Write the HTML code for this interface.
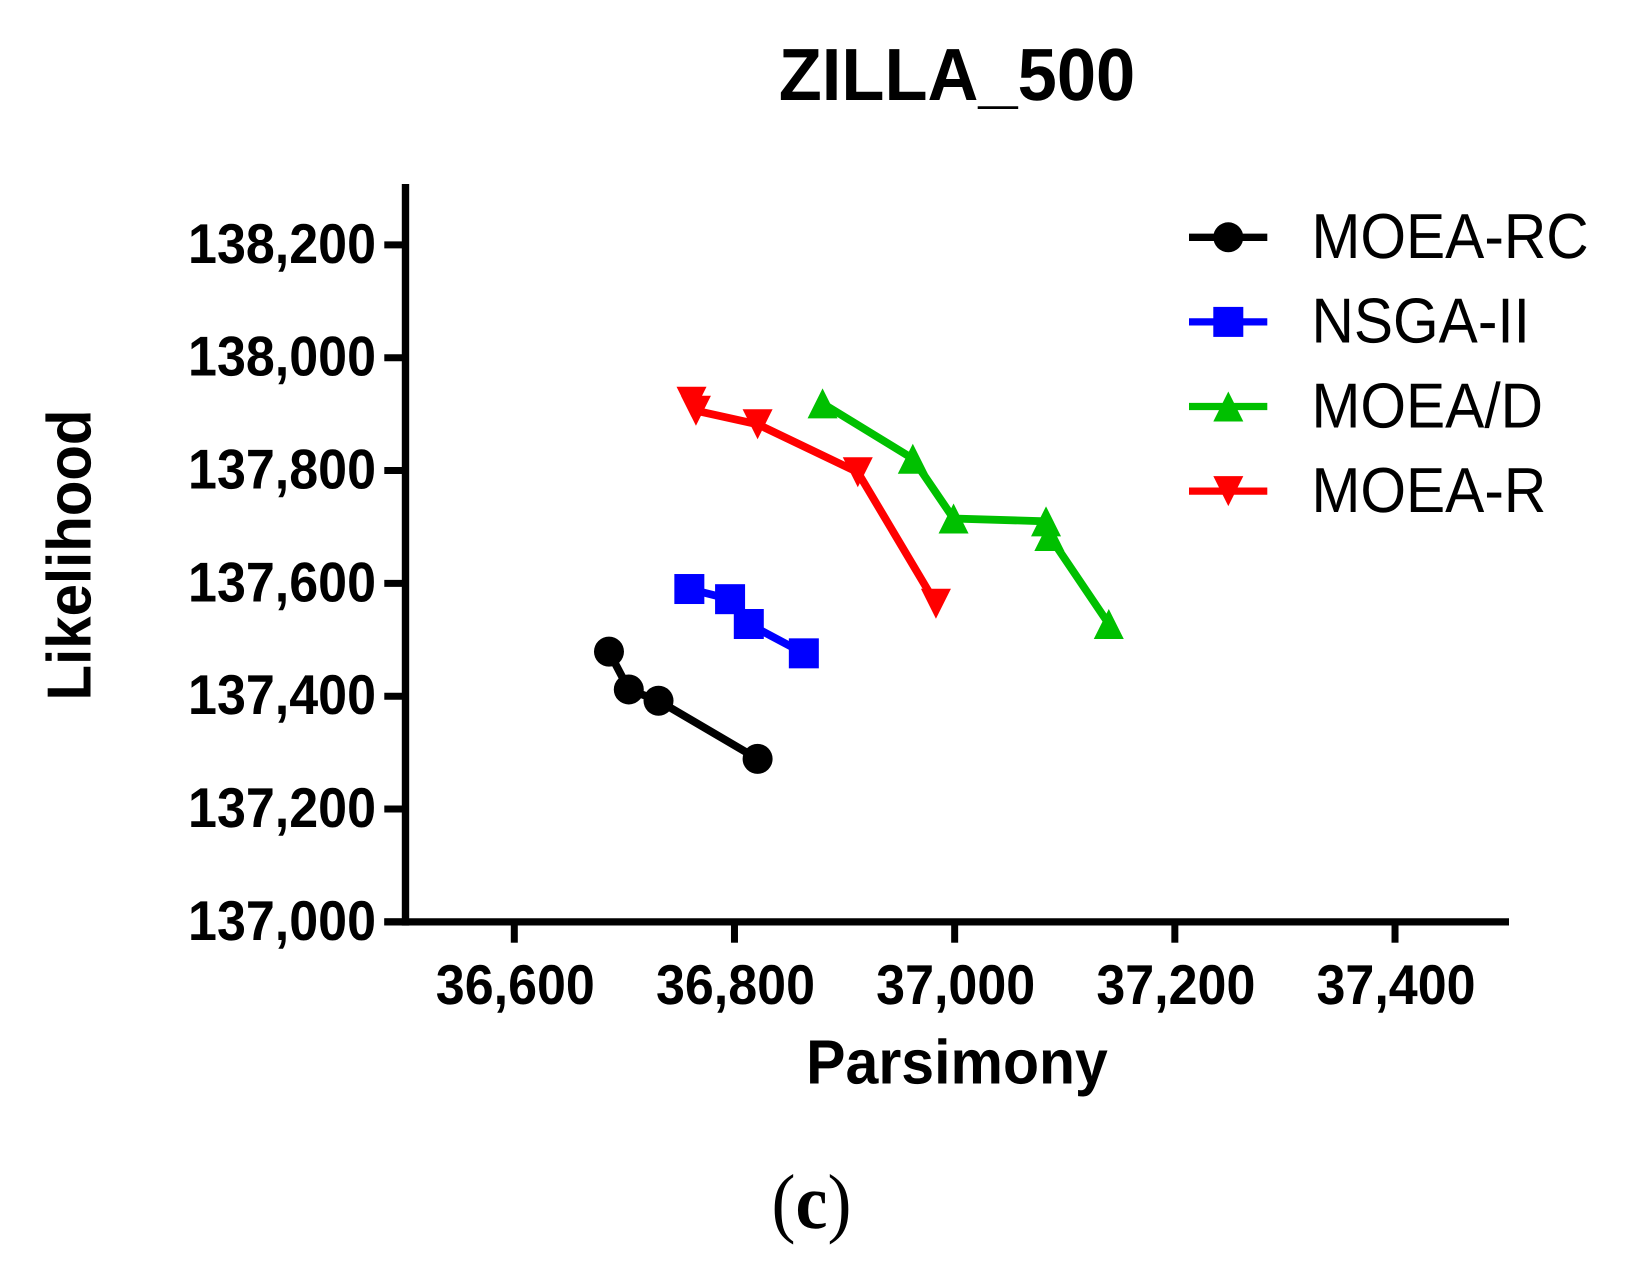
<!DOCTYPE html>
<html lang="en">
<head>
<meta charset="utf-8">
<title>ZILLA_500</title>
<style>
html,body{margin:0;padding:0;background:#fff;}
svg{display:block;}
text{fill:#000;font-family:"Liberation Sans",sans-serif;text-rendering:geometricPrecision;}
.b{font-weight:bold;}
</style>
</head>
<body>
<svg id="chart" width="1633" height="1269" viewBox="0 0 1633 1269" xmlns="http://www.w3.org/2000/svg">
  <rect x="0" y="0" width="1633" height="1269" fill="#fff"/>
  <text class="b" font-size="70.5" text-anchor="middle" transform="translate(957,100) scale(1,1.05)">ZILLA_500</text>
  <text class="b" font-size="59" text-anchor="middle" transform="translate(957,1083.5) scale(1,1.06)">Parsimony</text>
  <text class="b" font-size="58.2" text-anchor="middle" transform="translate(90.5,555) rotate(-90) scale(1,1.07)">Likelihood</text>
  <text font-size="72" text-anchor="middle" style="font-family:'Liberation Serif',serif" transform="translate(811.5,1228) scale(1,1.08)">(<tspan font-weight="bold">c</tspan>)</text>
  <g id="axes"></g>
  <g id="series"></g>
  <g id="legend"></g>
</svg>
<script>
// Data
const seriesNames = ["MOEA-RC", "NSGA-II", "MOEA/D", "MOEA-R"];
const moeaRcParsimony = [36686, 36704, 36731, 36821];
const moeaRcLikelihood = [137479, 137412, 137392, 137289];
const nsgaParsimony = [36759, 36796, 36813, 36863];
const nsgaLikelihood = [137590, 137572, 137528, 137476];
const moeaDParsimony = [36880, 36962, 36999, 37083, 37086, 37140];
const moeaDLikelihood = [137919, 137821, 137715, 137710, 137684, 137528];
const moeaRParsimony = [36761, 36765, 36821, 36912, 36983];
const moeaRLikelihood = [137922, 137906, 137882, 137797, 137564];
const xTicks = [36600, 36800, 37000, 37200, 37400];
const xTickLabels = ["36,600", "36,800", "37,000", "37,200", "37,400"];
const yTicks = [137000, 137200, 137400, 137600, 137800, 138000, 138200];
const yTickLabels = ["137,000", "137,200", "137,400", "137,600", "137,800", "138,000", "138,200"];

const NS = "http://www.w3.org/2000/svg";
const xAt = v => 514.3 + (v - 36600) * 1.1009;
const yAt = v => 921.9 - (v - 137000) * 0.5642;

function make(parent, tag, attrs) {
  const el = document.createElementNS(NS, tag);
  for (const k in attrs) el.setAttribute(k, attrs[k]);
  parent.appendChild(el);
  return el;
}
function marker(parent, shape, cx, cy, color) {
  const r = 15;
  if (shape === "circle") return make(parent, "circle", {cx: cx, cy: cy, r: r, fill: color});
  if (shape === "square") return make(parent, "rect", {x: cx - r, y: cy - r, width: 2 * r, height: 2 * r, fill: color});
  if (shape === "up") return make(parent, "polygon", {points: `${cx},${cy - r} ${cx + r},${cy + r} ${cx - r},${cy + r}`, fill: color});
  return make(parent, "polygon", {points: `${cx - r},${cy - r} ${cx + r},${cy - r} ${cx},${cy + r}`, fill: color});
}

// Axes
const axes = document.getElementById("axes");
const yAxisLine = make(axes, "line", {x1: 405.5, x2: 405.5, y1: 184, y2: 925.6, stroke: "#000", "stroke-width": 7.4});


const xAxisLine = make(axes, "line", {x1: 384.3, x2: 1509, y1: 921.9, y2: 921.9, stroke: "#000", "stroke-width": 7.2});



xTicks.forEach((v, i) => {
  const tick = make(axes, "line", {x1: xAt(v), x2: xAt(v), y1: 921.9, y2: 942.7, stroke: "#000", "stroke-width": 7});
  
  
  const label = make(axes, "text", {"class": "b", "font-size": 52, "text-anchor": "middle", transform: `translate(${xAt(v) + 1},1004) scale(1,1.08)`});
  label.textContent = xTickLabels[i];
  
  
});
yTicks.forEach((v, i) => {
  const tick = make(axes, "line", {x1: 384.3, x2: 405.5, y1: yAt(v), y2: yAt(v), stroke: "#000", "stroke-width": 7});
  
  
  const label = make(axes, "text", {"class": "b", "font-size": 52, "text-anchor": "end", transform: `translate(376,${yAt(v) + 18}) scale(1,1.08)`});
  label.textContent = yTickLabels[i];
  
  
});

// Series
const seriesLayer = document.getElementById("series");
const seriesParsimony = [moeaRcParsimony, nsgaParsimony, moeaDParsimony, moeaRParsimony];
const seriesLikelihood = [moeaRcLikelihood, nsgaLikelihood, moeaDLikelihood, moeaRLikelihood];
const seriesColors = ["#000000", "#0000ff", "#00c000", "#ff0000"];
const seriesShapes = ["circle", "square", "up", "down"];

seriesNames.forEach((name, s) => {
  const group = make(seriesLayer, "g", {});
  
  
  const pts = seriesParsimony[s].map((x, i) => `${xAt(x)},${yAt(seriesLikelihood[s][i])}`).join(" ");
  const line = make(group, "polyline", {points: pts, fill: "none", stroke: seriesColors[s], "stroke-width": 7.8, "stroke-linejoin": "miter"});
  
  
  seriesParsimony[s].forEach((x, i) => {
    const m = marker(group, seriesShapes[s], xAt(x), yAt(seriesLikelihood[s][i]), seriesColors[s]);
    
    
  });
});

// Legend
const legend = document.getElementById("legend");
const legendRowY = s => 237.3 + s * 84.6;
seriesNames.forEach((name, s) => {
  const cy = legendRowY(s);
  const entry = make(legend, "g", {});
  
  
  const swatch = make(entry, "line", {x1: 1189, x2: 1267.3, y1: cy, y2: cy, stroke: seriesColors[s], "stroke-width": 7.3});
  
  
  const m = marker(entry, seriesShapes[s], 1228.3, cy, seriesColors[s]);
  
  
  const label = make(entry, "text", {"font-size": 58.7, transform: `translate(1311.5,${cy + 20.8}) scale(1,1.085)`});
  label.textContent = name;
  
  
});
</script>
</body>
</html>
